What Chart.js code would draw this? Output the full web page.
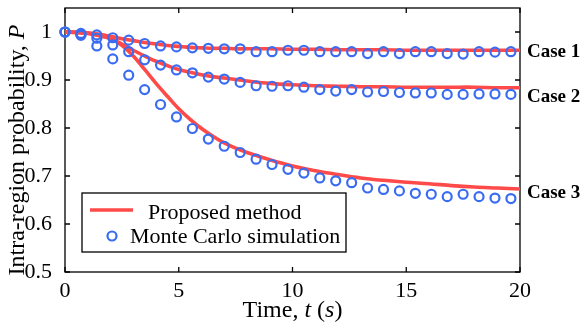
<!DOCTYPE html>
<html><head><meta charset="utf-8">
<script src="https://cdn.jsdelivr.net/npm/chart.js@4.4.0/dist/chart.umd.min.js"></script>
<style>html,body{margin:0;padding:0;background:#fff}#wrap{width:586px;height:322px}</style>
</head><body><div id="wrap"><canvas id="c" width="586" height="322"></canvas></div>
<script>
// ---- data ----
const timeMC = [0,0.7,1.4,2.1,2.8,3.5,4.2,4.9,5.6,6.3,7,7.7,8.4,9.1,9.8,10.5,11.2,11.9,12.6,13.3,14,14.7,15.4,16.1,16.8,17.5,18.2,18.9,19.6];
const mcCase1 = [1.000,0.997,0.994,0.988,0.983,0.976,0.971,0.969,0.967,0.966,0.965,0.965,0.959,0.959,0.962,0.962,0.959,0.959,0.959,0.955,0.959,0.955,0.959,0.959,0.955,0.954,0.959,0.958,0.959];
const mcCase2 = [1.000,0.995,0.987,0.973,0.959,0.942,0.931,0.921,0.915,0.906,0.902,0.895,0.888,0.887,0.888,0.885,0.880,0.877,0.880,0.875,0.876,0.874,0.873,0.873,0.870,0.870,0.871,0.871,0.870];
const mcCase3 = [1.000,0.993,0.971,0.944,0.910,0.880,0.849,0.823,0.799,0.777,0.762,0.749,0.735,0.724,0.714,0.706,0.696,0.690,0.686,0.675,0.672,0.669,0.664,0.662,0.657,0.662,0.657,0.654,0.653];
const timeLine = [0,0.5,1,1.5,2,2.5,3,3.5,4,4.5,5,5.5,6,6.5,7,7.5,8,9,10,11,12,13,14,15,16,17,18,19,20];
const lineCase1 = [1.000,1.000,0.998,0.995,0.991,0.986,0.982,0.978,0.975,0.972,0.970,0.968,0.967,0.966,0.966,0.965,0.965,0.965,0.964,0.964,0.963,0.963,0.963,0.962,0.962,0.962,0.962,0.962,0.962];
const lineCase2 = [1.000,0.999,0.997,0.992,0.986,0.975,0.962,0.950,0.939,0.930,0.922,0.916,0.911,0.907,0.904,0.901,0.898,0.893,0.890,0.888,0.887,0.886,0.886,0.885,0.885,0.885,0.885,0.884,0.884];
const lineCase3 = [1.000,0.999,0.998,0.995,0.988,0.972,0.950,0.922,0.893,0.866,0.840,0.818,0.799,0.783,0.769,0.758,0.749,0.734,0.721,0.711,0.703,0.696,0.691,0.687,0.684,0.680,0.677,0.675,0.673];
const caseLabels = ['Case 1','Case 2','Case 3'];
const caseLabelAt = [0.958, 0.865, 0.665];
const xTicks = [0,5,10,15,20];
const yTicks = [0.5,0.6,0.7,0.8,0.9,1.0];
const seriesNames = ['Proposed method','Monte Carlo simulation'];

// ---- styles ----
const RED = '#ff4a4a', BLUE = '#3a6cf2';
const FONT = 'Liberation Serif';
const pts = (xs, ys) => xs.map((x,i)=>({x, y: ys[i]}));

const mcSet = (ys) => ({type:'scatter', data: pts(timeMC, ys), showLine:false, pointStyle:'circle',
  pointRadius:4.5, pointBorderWidth:2.2, borderColor:BLUE, backgroundColor:'rgba(0,0,0,0)', pointBackgroundColor:'rgba(255,255,255,0)', clip:false, order:0});
const lnSet = (ys) => ({type:'line', data: pts(timeLine, ys), borderColor:RED, borderWidth:3.6,
  pointRadius:0, tension:0.35, fill:false, order:1});

function drawMixed(ctx, parts, x, y, size){
  let total = 0; const ws = [];
  parts.forEach(([t,it])=>{ ctx.font = (it?'italic ':'') + size + 'px "' + FONT + '"'; const w = ctx.measureText(t).width; ws.push(w); total += w; });
  let cx = x - total/2;
  ctx.textAlign = 'left';
  parts.forEach(([t,it],i)=>{ ctx.font = (it?'italic ':'') + size + 'px "' + FONT + '"'; ctx.fillText(t, cx, y); cx += ws[i]; });
}

const deco = {
  id:'deco',
  beforeDatasetsDraw(chart){
    const {ctx, chartArea:a, scales:{x, y}} = chart;
    ctx.save();
    ctx.strokeStyle = '#000'; ctx.lineWidth = 1.3;
    ctx.strokeRect(a.left, a.top, a.right-a.left, a.bottom-a.top);
    const L = 5;
    ctx.beginPath();
    xTicks.forEach(v=>{ const px = x.getPixelForValue(v);
      ctx.moveTo(px, a.bottom); ctx.lineTo(px, a.bottom-L);
      ctx.moveTo(px, a.top); ctx.lineTo(px, a.top+L); });
    yTicks.forEach(v=>{ const py = y.getPixelForValue(v);
      ctx.moveTo(a.left, py); ctx.lineTo(a.left+L, py);
      ctx.moveTo(a.right, py); ctx.lineTo(a.right-L, py); });
    ctx.stroke();
    ctx.restore();
  },
  afterDraw(chart){
    const {ctx, chartArea:a, scales:{x, y}} = chart;
    ctx.save();
    ctx.fillStyle = '#000';
    ctx.textBaseline = 'alphabetic';
    // x title
    drawMixed(ctx, [['Time, ',false],['t',true],[' (',false],['s',true],[')',false]], (a.left+a.right)/2, 317, 24);
    // y title
    ctx.save();
    ctx.translate(24, 150);
    ctx.rotate(-Math.PI/2);
    drawMixed(ctx, [['Intra-region probability, ',false],['P',true]], 0, 0, 24);
    ctx.restore();
    // case labels
    ctx.font = 'bold 19px "' + FONT + '"';
    ctx.textBaseline = 'middle'; ctx.textAlign = 'left';
    caseLabels.forEach((t,i)=> ctx.fillText(t, a.right + 7, y.getPixelForValue(caseLabelAt[i])));
    // legend
    const bx = 82, by = 193, bw = 264, bh = 59;
    ctx.fillStyle = '#fff'; ctx.fillRect(bx, by, bw, bh);
    ctx.strokeStyle = '#000'; ctx.lineWidth = 1.3; ctx.strokeRect(bx, by, bw, bh);
    ctx.strokeStyle = RED; ctx.lineWidth = 3.6;
    ctx.beginPath(); ctx.moveTo(90, 210); ctx.lineTo(133, 210); ctx.stroke();
    ctx.strokeStyle = BLUE; ctx.lineWidth = 2.2;
    ctx.beginPath(); ctx.arc(112, 236, 4.5, 0, Math.PI*2); ctx.stroke();
    ctx.fillStyle = '#000'; ctx.font = '22px "' + FONT + '"'; ctx.textBaseline = 'alphabetic';
    ctx.fillText(seriesNames[0], 148, 219);
    ctx.fillText(seriesNames[1], 130, 243);
    ctx.restore();
  }
};

const zeroPad = s => { s.paddingTop = 0; s.paddingBottom = 0; s.paddingLeft = 0; s.paddingRight = 0; };

new Chart(document.getElementById('c'), {
  data: { datasets: [
    Object.assign(mcSet(mcCase1), {label: seriesNames[1]}),
    Object.assign(mcSet(mcCase2), {label: seriesNames[1]}),
    Object.assign(mcSet(mcCase3), {label: seriesNames[1]}),
    Object.assign(lnSet(lineCase1), {label: seriesNames[0]}),
    Object.assign(lnSet(lineCase2), {label: seriesNames[0]}),
    Object.assign(lnSet(lineCase3), {label: seriesNames[0]})
  ]},
  options: {
    responsive:false, animation:false, devicePixelRatio:1,
    layout:{padding:{top:8, right:66, left:0, bottom:0}},
    plugins:{legend:{display:false}, tooltip:{enabled:false}},
    scales:{
      x:{type:'linear', min:0, max:20, grid:{display:false}, border:{display:false},
         afterBuildTicks: s => { s.ticks = xTicks.map(v=>({value:v})); },
         afterFit: s => { s.height = 50; zeroPad(s); },
         ticks:{color:'#000', padding:-2, font:{family:FONT, size:22}, maxRotation:0}},
      y:{type:'linear', min:0.5, max:1.05, grid:{display:false}, border:{display:false},
         afterBuildTicks: s => { s.ticks = yTicks.map(v=>({value:v})); },
         afterFit: s => { s.width = 65; zeroPad(s); },
         ticks:{color:'#000', padding:5, font:{family:FONT, size:22}, callback: v => String(Math.round(v*10)/10)}}
    }
  },
  plugins:[deco]
});
</script></body></html>
